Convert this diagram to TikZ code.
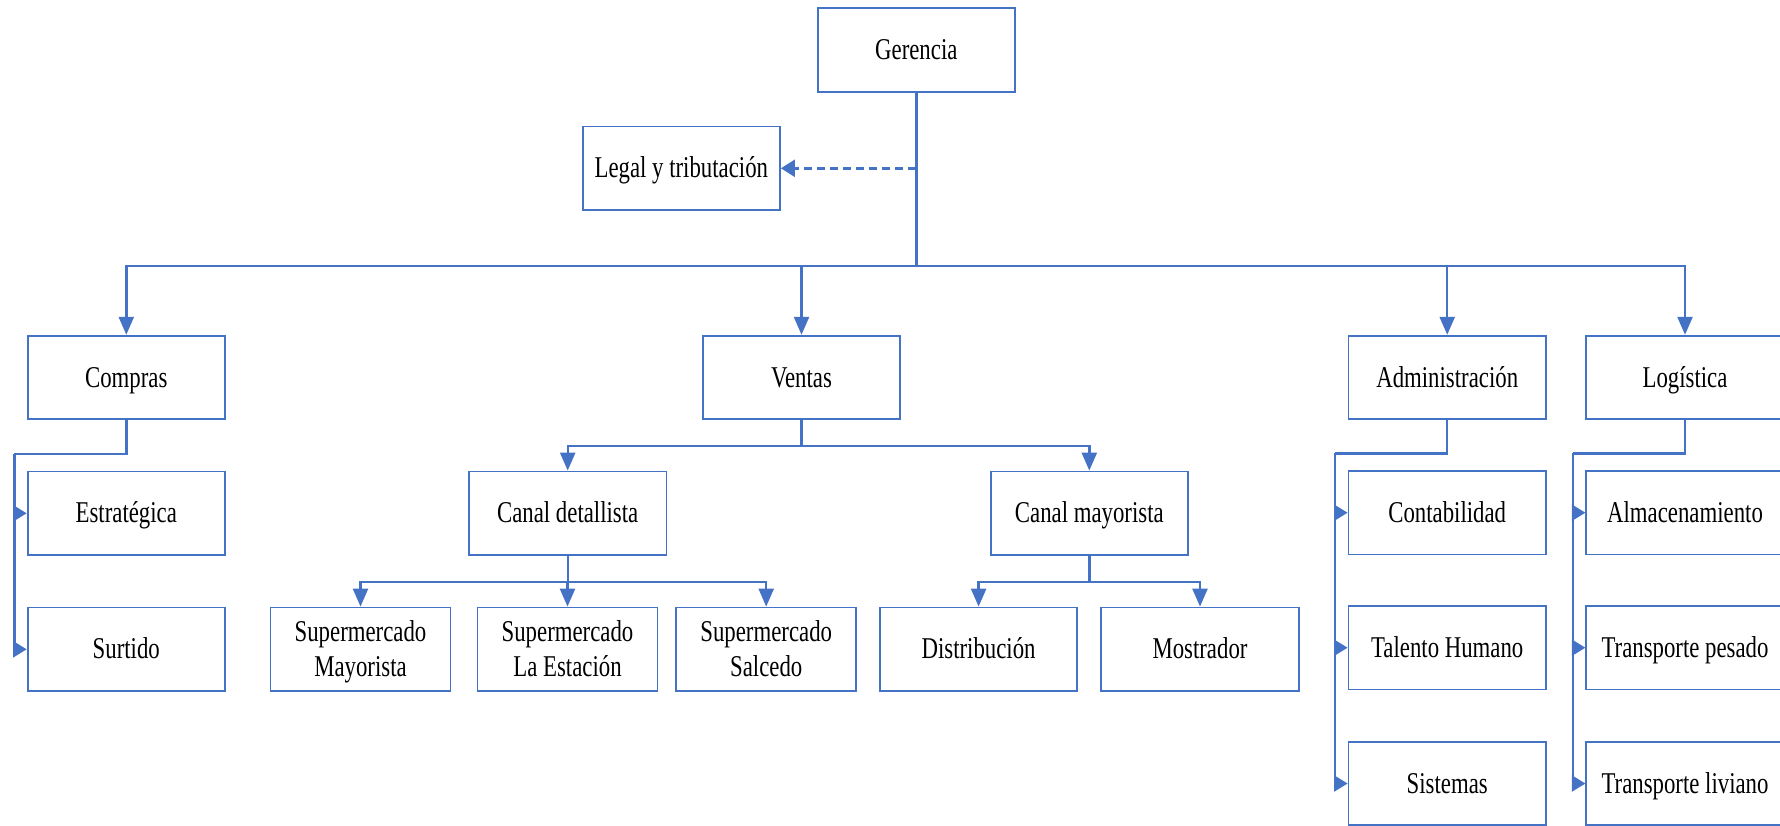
\documentclass[tikz,border=0pt]{standalone}
\usepackage{fontspec}
\setmainfont[FakeStretch=0.755]{Liberation Serif}
\usetikzlibrary{arrows.meta}
\definecolor{ob}{HTML}{4472C4}
\newcommand\boxtxt[1]{\raisebox{-1.25pt}[\height][\depth]{\begin{tabular}{@{}c@{}}#1\end{tabular}}}
\begin{document}
\begin{tikzpicture}[x=0.5pt,y=-0.5pt,
  box/.style={draw=ob, line width=0.9pt, minimum width=98.7pt, minimum height=41.8pt,
    inner sep=1pt, font=\fontsize{15.1}{17.8}\selectfont, text=black},
  sbox/.style={box, minimum width=90pt},
  conn/.style={draw=ob, line width=1.2pt},
  arr/.style={conn, -{Triangle[length=9pt,width=7.5pt]}},
  sarr/.style={conn, -{Triangle[length=6.8pt,width=8pt]}},
  darr/.style={conn, dash pattern=on 4pt off 2.5pt, -{Triangle[length=7pt,width=8.5pt]}},
]
\useasboundingbox (0,0) rectangle (1780,825);
\clip (0,0) rectangle (1780,825);

\node[box] (ger) at (916.3,50) {\boxtxt{Gerencia}};
\node[box] (leg) at (681.3,168.3) {\boxtxt{Legal y tributación}};
\node[box] (com) at (126.3,377.5) {\boxtxt{Compras}};
\node[box] (ven) at (801.5,377.5) {\boxtxt{Ventas}};
\node[box] (adm) at (1447.2,377.5) {\boxtxt{Administración}};
\node[box] (log) at (1685,377.5) {\boxtxt{Logística}};
\node[box] (est) at (126.3,513.3) {\boxtxt{Estratégica}};
\node[box] (sur) at (126.3,649.3) {\boxtxt{Surtido}};
\node[box] (cde) at (567.7,513.3) {\boxtxt{Canal detallista}};
\node[box] (cma) at (1089.3,513.3) {\boxtxt{Canal mayorista}};
\node[sbox] (sm) at (360.5,649.3) {\boxtxt{Supermercado\\Mayorista}};
\node[sbox] (sle) at (567.5,649.3) {\boxtxt{Supermercado\\La Estación}};
\node[sbox] (ssa) at (766.2,649.3) {\boxtxt{Supermercado\\Salcedo}};
\node[box] (dis) at (978.6,649.3) {\boxtxt{Distribución}};
\node[box] (mos) at (1200,649.3) {\boxtxt{Mostrador}};
\node[box] (con) at (1447.2,512.7) {\boxtxt{Contabilidad}};
\node[box] (tal) at (1447.2,647.7) {\boxtxt{Talento Humano}};
\node[box] (sis) at (1447.2,783.5) {\boxtxt{Sistemas}};
\node[box] (alm) at (1685,512.7) {\boxtxt{Almacenamiento}};
\node[box] (tpe) at (1685,647.7) {\boxtxt{Transporte pesado}};
\node[box] (tli) at (1685,783.5) {\boxtxt{Transporte liviano}};

% top level
\coordinate (bus) at (916.3,265.7);
\coordinate (lgj) at (916.3,168.3);
\draw[conn] (ger.south) -- (bus);
\draw[darr] (lgj) -- (leg.east);
\draw[arr] (bus) -| (com.north);
\draw[arr] (bus) -| (ven.north);
\draw[arr] (bus) -| (adm.north);
\draw[arr] (bus) -| (log.north);

% Compras
\coordinate (cj) at (14.3,454);
\draw[conn] (com.south) |- (cj);
\draw[sarr] (cj) |- (est.west);
\draw[sarr] (cj) |- (sur.west);

% Ventas
\coordinate (vj) at (801.5,445.7);
\draw[conn] (ven.south) -- (vj);
\draw[arr] (vj) -| (cde.north);
\draw[arr] (vj) -| (cma.north);

% Canal detallista
\coordinate (dj) at (567.7,581.7);
\draw[conn] (cde.south) -- (dj);
\draw[arr] (dj) -| (sm.north);
\draw[arr] (dj) -| (sle.north);
\draw[arr] (dj) -| (ssa.north);

% Canal mayorista
\coordinate (mj) at (1089.3,581.7);
\draw[conn] (cma.south) -- (mj);
\draw[arr] (mj) -| (dis.north);
\draw[arr] (mj) -| (mos.north);

% Administracion
\coordinate (aj) at (1335,453.3);
\draw[conn] (adm.south) |- (aj);
\draw[sarr] (aj) |- (con.west);
\draw[sarr] (aj) |- (tal.west);
\draw[sarr] (aj) |- (sis.west);

% Logistica
\coordinate (oj) at (1572.7,453.3);
\draw[conn] (log.south) |- (oj);
\draw[sarr] (oj) |- (alm.west);
\draw[sarr] (oj) |- (tpe.west);
\draw[sarr] (oj) |- (tli.west);
\end{tikzpicture}
\end{document}
